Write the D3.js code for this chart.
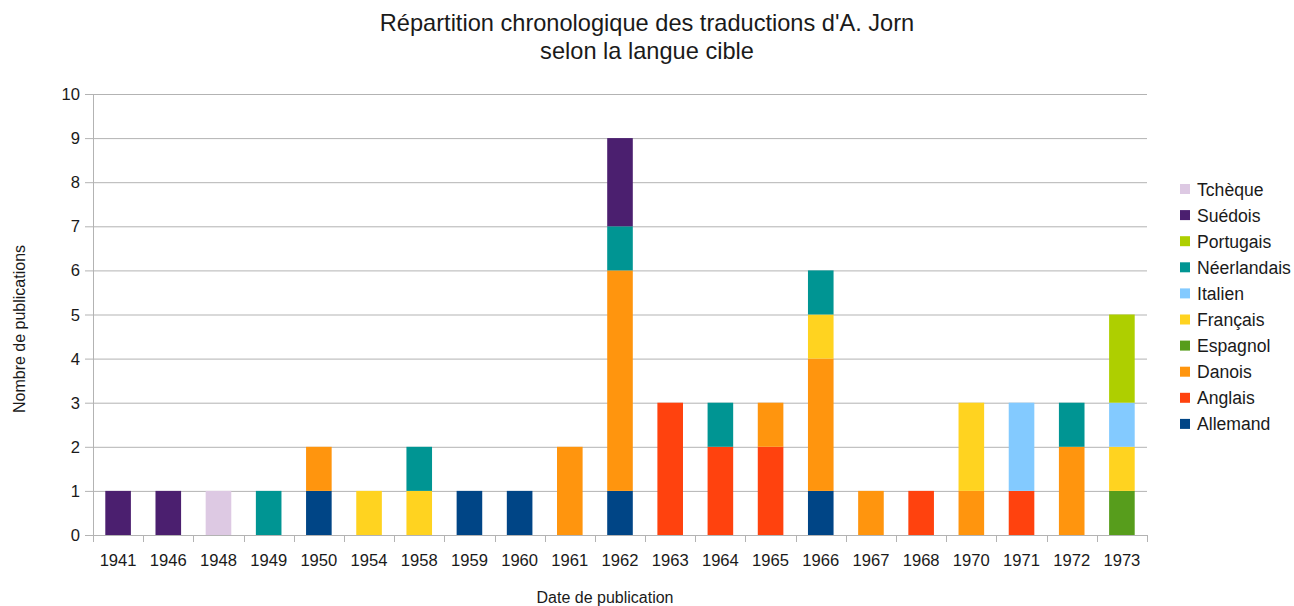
<!DOCTYPE html>
<html><head><meta charset="utf-8">
<script src="https://cdn.jsdelivr.net/npm/d3@7"></script>
<style>body{margin:0;background:#fff}svg{display:block}text{font-family:"Liberation Sans",Arial,sans-serif;fill:#1a1a1a}</style>
</head><body><svg id="c" width="1294" height="606"></svg>
<script>
const years = ["1941","1946","1948","1949","1950","1954","1958","1959","1960","1961","1962","1963","1964","1965","1966","1967","1968","1970","1971","1972","1973"];
const series = ["Allemand","Anglais","Danois","Espagnol","Français","Italien","Néerlandais","Portugais","Suédois","Tchèque"];
const colors = ["#004586","#ff420e","#ff950e","#579d1c","#ffd320","#83caff","#009593","#aecf00","#4b1f6f","#ddc9e3"];
const Allemand    = [0,0,0,0,1,0,0,1,1,0,1,0,0,0,1,0,0,0,0,0,0];
const Anglais     = [0,0,0,0,0,0,0,0,0,0,0,3,2,2,0,0,1,0,1,0,0];
const Danois      = [0,0,0,0,1,0,0,0,0,2,5,0,0,1,3,1,0,1,0,2,0];
const Espagnol    = [0,0,0,0,0,0,0,0,0,0,0,0,0,0,0,0,0,0,0,0,1];
const Francais    = [0,0,0,0,0,1,1,0,0,0,0,0,0,0,1,0,0,2,0,0,1];
const Italien     = [0,0,0,0,0,0,0,0,0,0,0,0,0,0,0,0,0,0,2,0,1];
const Neerlandais = [0,0,0,1,0,0,1,0,0,0,1,0,1,0,1,0,0,0,0,1,0];
const Portugais   = [0,0,0,0,0,0,0,0,0,0,0,0,0,0,0,0,0,0,0,0,2];
const Suedois     = [1,1,0,0,0,0,0,0,0,0,2,0,0,0,0,0,0,0,0,0,0];
const Tcheque     = [0,0,1,0,0,0,0,0,0,0,0,0,0,0,0,0,0,0,0,0,0];
const yTicks = [0,1,2,3,4,5,6,7,8,9,10];

const values = [Allemand,Anglais,Danois,Espagnol,Francais,Italien,Neerlandais,Portugais,Suedois,Tcheque];
const table = years.map((y,i)=>{const o={year:y};series.forEach((s,j)=>o[s]=values[j][i]);return o;});
const stacked = d3.stack().keys(series)(table);

const svg = d3.select("#c");
const m = {left:93, right:1147, top:94, bottom:535};
const x = d3.scaleBand().domain(years).range([m.left,m.right]).paddingInner(0.49).paddingOuter(0.245);
const xb = d3.scaleBand().domain(years).range([m.left,m.right]);
const y = d3.scaleLinear().domain([0,10]).range([m.bottom,m.top]);
const grid = "#b3b3b3";

svg.append("g").selectAll("line").data(yTicks).join("line")
  .attr("x1",m.left-8).attr("x2",m.right).attr("y1",d=>y(d)+0.5).attr("y2",d=>y(d)+0.5)
  .attr("stroke",grid).attr("stroke-width",1);
svg.append("line").attr("x1",m.left+0.5).attr("x2",m.left+0.5).attr("y1",m.top).attr("y2",m.bottom+7).attr("stroke",grid);
const bounds = years.map(d=>xb(d)).concat([m.right]);
svg.append("g").selectAll("line").data(bounds).join("line")
  .attr("x1",d=>Math.round(d)+0.5).attr("x2",d=>Math.round(d)+0.5).attr("y1",m.bottom).attr("y2",m.bottom+7).attr("stroke",grid);

svg.append("g").selectAll("g").data(stacked).join("g")
  .attr("fill",(d,i)=>colors[i])
  .selectAll("rect").data(d=>d.filter(p=>p[1]>p[0])).join("rect")
  .attr("x",d=>x(d.data.year)).attr("width",x.bandwidth())
  .attr("y",d=>y(d[1])).attr("height",d=>y(d[0])-y(d[1]));

svg.append("g").selectAll("text").data(yTicks).join("text")
  .attr("x",80).attr("y",d=>y(d)+6).attr("text-anchor","end").attr("font-size",16.6).text(d=>d);
svg.append("g").selectAll("text").data(years).join("text")
  .attr("x",d=>xb(d)+xb.bandwidth()/2).attr("y",566).attr("text-anchor","middle").attr("font-size",16.6).text(d=>d);

svg.append("text").attr("x",647).attr("y",31).attr("text-anchor","middle").attr("font-size",23.6).text("Répartition chronologique des traductions d'A. Jorn");
svg.append("text").attr("x",647).attr("y",59).attr("text-anchor","middle").attr("font-size",23.6).text("selon la langue cible");
svg.append("text").attr("x",605).attr("y",603).attr("text-anchor","middle").attr("font-size",16).text("Date de publication");
svg.append("text").attr("transform","translate(25,329) rotate(-90)").attr("text-anchor","middle").attr("font-size",16).text("Nombre de publications");

const leg = svg.append("g").selectAll("g").data(series.slice().reverse()).join("g")
  .attr("transform",(d,i)=>`translate(1180,${189+i*26.1})`);
leg.append("rect").attr("x",0).attr("y",-5).attr("width",10).attr("height",10)
  .attr("fill",d=>colors[series.indexOf(d)]);
leg.append("text").attr("x",17).attr("y",6.5).attr("font-size",17.6).text(d=>d);
</script></body></html>
